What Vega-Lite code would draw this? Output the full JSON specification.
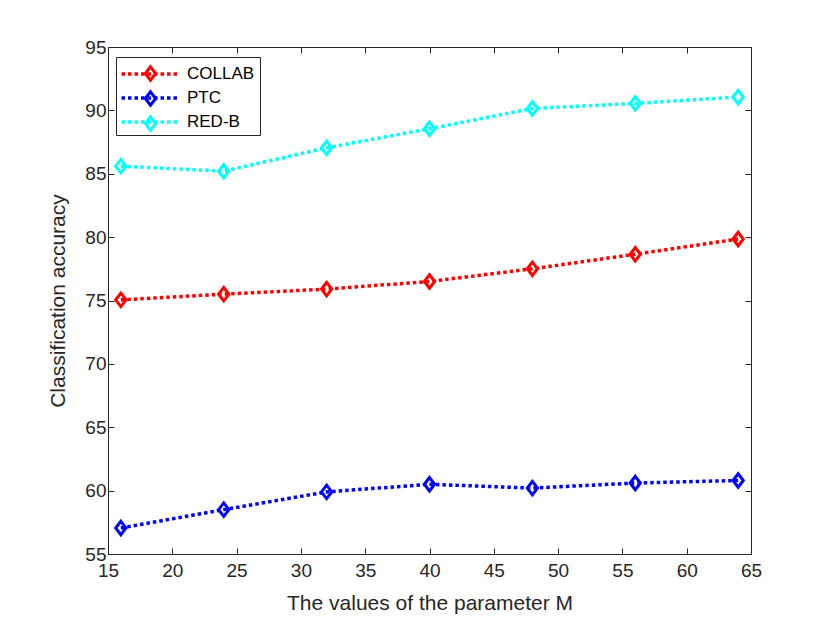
{
  "$schema": "https://vega.github.io/schema/vega-lite/v6.json",
  "width": 643,
  "height": 507,
  "autosize": {"type": "none"},
  "padding": {"left": 108, "top": 47, "right": 79, "bottom": 69},
  "background": "white",
  "data": {
    "values": [
      {"M": 16, "series": "COLLAB", "acc": 75.05},
      {"M": 24, "series": "COLLAB", "acc": 75.5},
      {"M": 32, "series": "COLLAB", "acc": 75.9},
      {"M": 40, "series": "COLLAB", "acc": 76.5},
      {"M": 48, "series": "COLLAB", "acc": 77.5},
      {"M": 56, "series": "COLLAB", "acc": 78.65},
      {"M": 64, "series": "COLLAB", "acc": 79.85},
      {"M": 16, "series": "PTC", "acc": 57.05},
      {"M": 24, "series": "PTC", "acc": 58.5},
      {"M": 32, "series": "PTC", "acc": 59.9},
      {"M": 40, "series": "PTC", "acc": 60.5},
      {"M": 48, "series": "PTC", "acc": 60.2},
      {"M": 56, "series": "PTC", "acc": 60.6},
      {"M": 64, "series": "PTC", "acc": 60.8},
      {"M": 16, "series": "RED-B", "acc": 85.6},
      {"M": 24, "series": "RED-B", "acc": 85.2},
      {"M": 32, "series": "RED-B", "acc": 87.05},
      {"M": 40, "series": "RED-B", "acc": 88.55},
      {"M": 48, "series": "RED-B", "acc": 90.15},
      {"M": 56, "series": "RED-B", "acc": 90.55},
      {"M": 64, "series": "RED-B", "acc": 91.05}
    ]
  },
  "resolve": {"axis": {"x": "independent", "y": "independent"}},
  "layer": [
    {
      "mark": {"type": "line", "strokeWidth": 3.5, "strokeDash": [3.5, 3], "strokeCap": "butt"},
      "encoding": {
        "x": {
          "field": "M",
          "type": "quantitative",
          "scale": {"domain": [15, 65], "nice": false, "zero": false},
          "axis": {
            "orient": "bottom",
            "values": [15, 20, 25, 30, 35, 40, 45, 50, 55, 60, 65],
            "title": "The values of the parameter M",
            "tickSize": -6,
            "labelPadding": 13,
            "titlePadding": 12,
            "labelFlush": false,
            "labelOverlap": false
          }
        },
        "y": {
          "field": "acc",
          "type": "quantitative",
          "scale": {"domain": [55, 95], "nice": false, "zero": false},
          "axis": {
            "orient": "left",
            "values": [55, 60, 65, 70, 75, 80, 85, 90, 95],
            "title": "Classification accuracy",
            "tickSize": -6,
            "labelPadding": 8,
            "titlePadding": 16,
            "labelOverlap": false
          }
        },
        "color": {
          "field": "series",
          "type": "nominal",
          "scale": {"domain": ["COLLAB", "PTC", "RED-B"], "range": ["#ff0000", "#0000ff", "#00ffff"]},
          "legend": {
            "orient": "none",
            "legendX": 8,
            "legendY": 10,
            "title": null,
            "padding": 5,
            "rowPadding": 4,
            "symbolType": "M-2.85,0H2.85",
            "symbolSize": 400,
            "symbolStrokeWidth": 3.5,
            "symbolDash": [3.5, 3],
            "symbolOffset": 17,
            "labelOffset": 25,
            "labelFontSize": 17,
            "labelFont": "Liberation Sans",
            "labelColor": "#000000",
            "strokeColor": "#262626",
            "fillColor": "white"
          }
        }
      }
    },
    {
      "mark": {"type": "point", "shape": "M0,-1L0.77,0L0,1L-0.77,0Z", "size": 180, "strokeWidth": 3, "filled": false, "opacity": 1},
      "encoding": {
        "x": {
          "field": "M",
          "type": "quantitative",
          "scale": {"domain": [15, 65], "nice": false, "zero": false},
          "axis": {
            "orient": "top",
            "values": [15, 20, 25, 30, 35, 40, 45, 50, 55, 60, 65],
            "title": null,
            "labels": false,
            "tickSize": -6
          }
        },
        "y": {
          "field": "acc",
          "type": "quantitative",
          "scale": {"domain": [55, 95], "nice": false, "zero": false},
          "axis": {
            "orient": "right",
            "values": [55, 60, 65, 70, 75, 80, 85, 90, 95],
            "title": null,
            "labels": false,
            "tickSize": -6
          }
        },
        "stroke": {
          "field": "series",
          "type": "nominal",
          "scale": {"range": ["#ff0000", "#0000ff", "#00ffff"]},
          "legend": {
            "orient": "none",
            "legendX": 8,
            "legendY": 10,
            "title": null,
            "padding": 5,
            "rowPadding": -2,
            "symbolType": "M0,-0.67L0.52,0L0,0.67L-0.52,0Z",
            "symbolSize": 400,
            "symbolStrokeWidth": 3,
            "symbolOffset": 18,
            "labelOffset": 25,
            "labelFontSize": 17,
            "labelFont": "Liberation Sans",
            "labelExpr": "''"
          }
        }
      }
    }
  ],
  "config": {
    "font": "Liberation Sans",
    "axis": {
      "grid": false,
      "domainColor": "#262626",
      "domainWidth": 1,
      "tickColor": "#262626",
      "tickWidth": 1,
      "labelColor": "#262626",
      "labelFont": "Liberation Sans",
      "labelFontSize": 19,
      "titleColor": "#262626",
      "titleFont": "Liberation Sans",
      "titleFontSize": 21,
      "titleFontWeight": "normal"
    },
    "view": {"stroke": null}
  }
}
